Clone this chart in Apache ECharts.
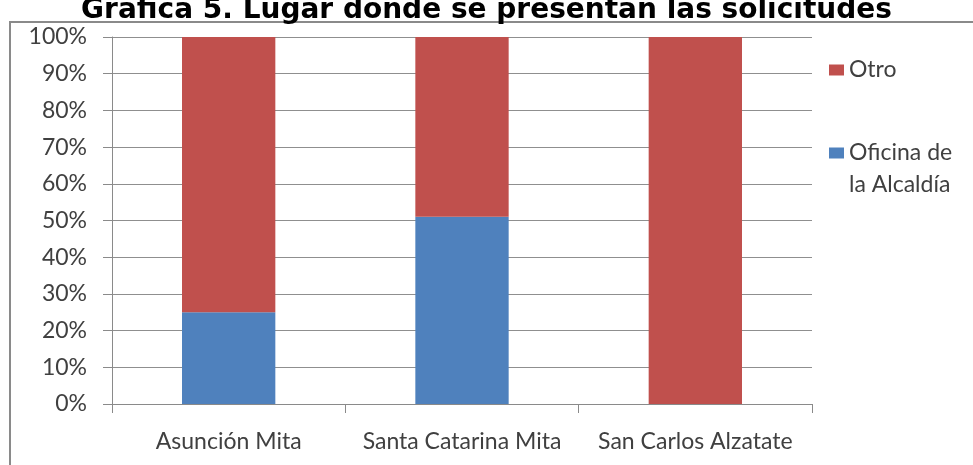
<!DOCTYPE html>
<html><head><meta charset="utf-8">
<script src="https://cdn.jsdelivr.net/npm/echarts@6/dist/echarts.min.js"></script>
<style>html,body{margin:0;padding:0;background:#fff}#c{width:973px;height:465px}</style>
</head><body><div id="c"></div>
<script>
const categories = ['Asunción Mita', 'Santa Catarina Mita', 'San Carlos Alzatate'];
const oficina = [25, 51, 0];
const otro = [75, 49, 100];
const seriesNames = ['Oficina de\nla Alcaldía', 'Otro'];
const titleText = 'Gráfica 5. Lugar donde se presentan las solicitudes';

const FONT = 'Lato';
const chart = echarts.init(document.getElementById('c'));
chart.setOption({
  backgroundColor: '#fff',
  animation: false,
  title: {
    text: titleText, left: 'center', top: -8,
    textStyle: {fontFamily: 'DejaVu Sans', fontWeight: 'bold', fontSize: 28, color: '#000'}
  },
  graphic: [{
    type: 'rect', shape: {x: 10, y: 22, width: 975, height: 460},
    style: {fill: 'none', stroke: '#8a8a8a', lineWidth: 2}, z: -1
  }],
  grid: {left: 112, right: 161, top: 37, bottom: 61},
  legend: [{
    data: [seriesNames[1]], left: 824, top: 49, orient: 'vertical',
    itemWidth: 15, itemHeight: 11, icon: 'rect',
    textStyle: {fontFamily: FONT, fontSize: 23, color: '#404040', lineHeight: 32}
  }, {
    data: [seriesNames[0]], left: 824, top: 100, orient: 'vertical',
    itemWidth: 15, itemHeight: 11, icon: 'rect',
    formatter: function (n) { return ' \n' + n; },
    textStyle: {fontFamily: FONT, fontSize: 23, color: '#404040', lineHeight: 32}
  }],
  xAxis: {
    type: 'category', data: categories,
    axisLine: {lineStyle: {color: '#8a8a8a'}},
    axisTick: {show: true, length: 9, lineStyle: {color: '#8a8a8a'}},
    axisLabel: {interval: 0, fontFamily: FONT, fontSize: 23, color: '#404040', margin: 26}
  },
  yAxis: {
    type: 'value', min: 0, max: 100, interval: 10,
    axisLine: {show: true, lineStyle: {color: '#8a8a8a'}},
    axisTick: {show: true, length: 9, lineStyle: {color: '#8a8a8a'}},
    axisLabel: {formatter: '{value}%', fontFamily: FONT, fontSize: 23, color: '#404040', margin: 25},
    splitLine: {lineStyle: {color: '#8f8f8f'}}
  },
  series: [{
    name: seriesNames[0], type: 'bar', stack: 's', data: oficina,
    barWidth: '40%', itemStyle: {color: '#4F81BD'}
  }, {
    name: seriesNames[1], type: 'bar', stack: 's', data: otro,
    barWidth: '40%', itemStyle: {color: '#C0504D'}
  }]
});
</script></body></html>
